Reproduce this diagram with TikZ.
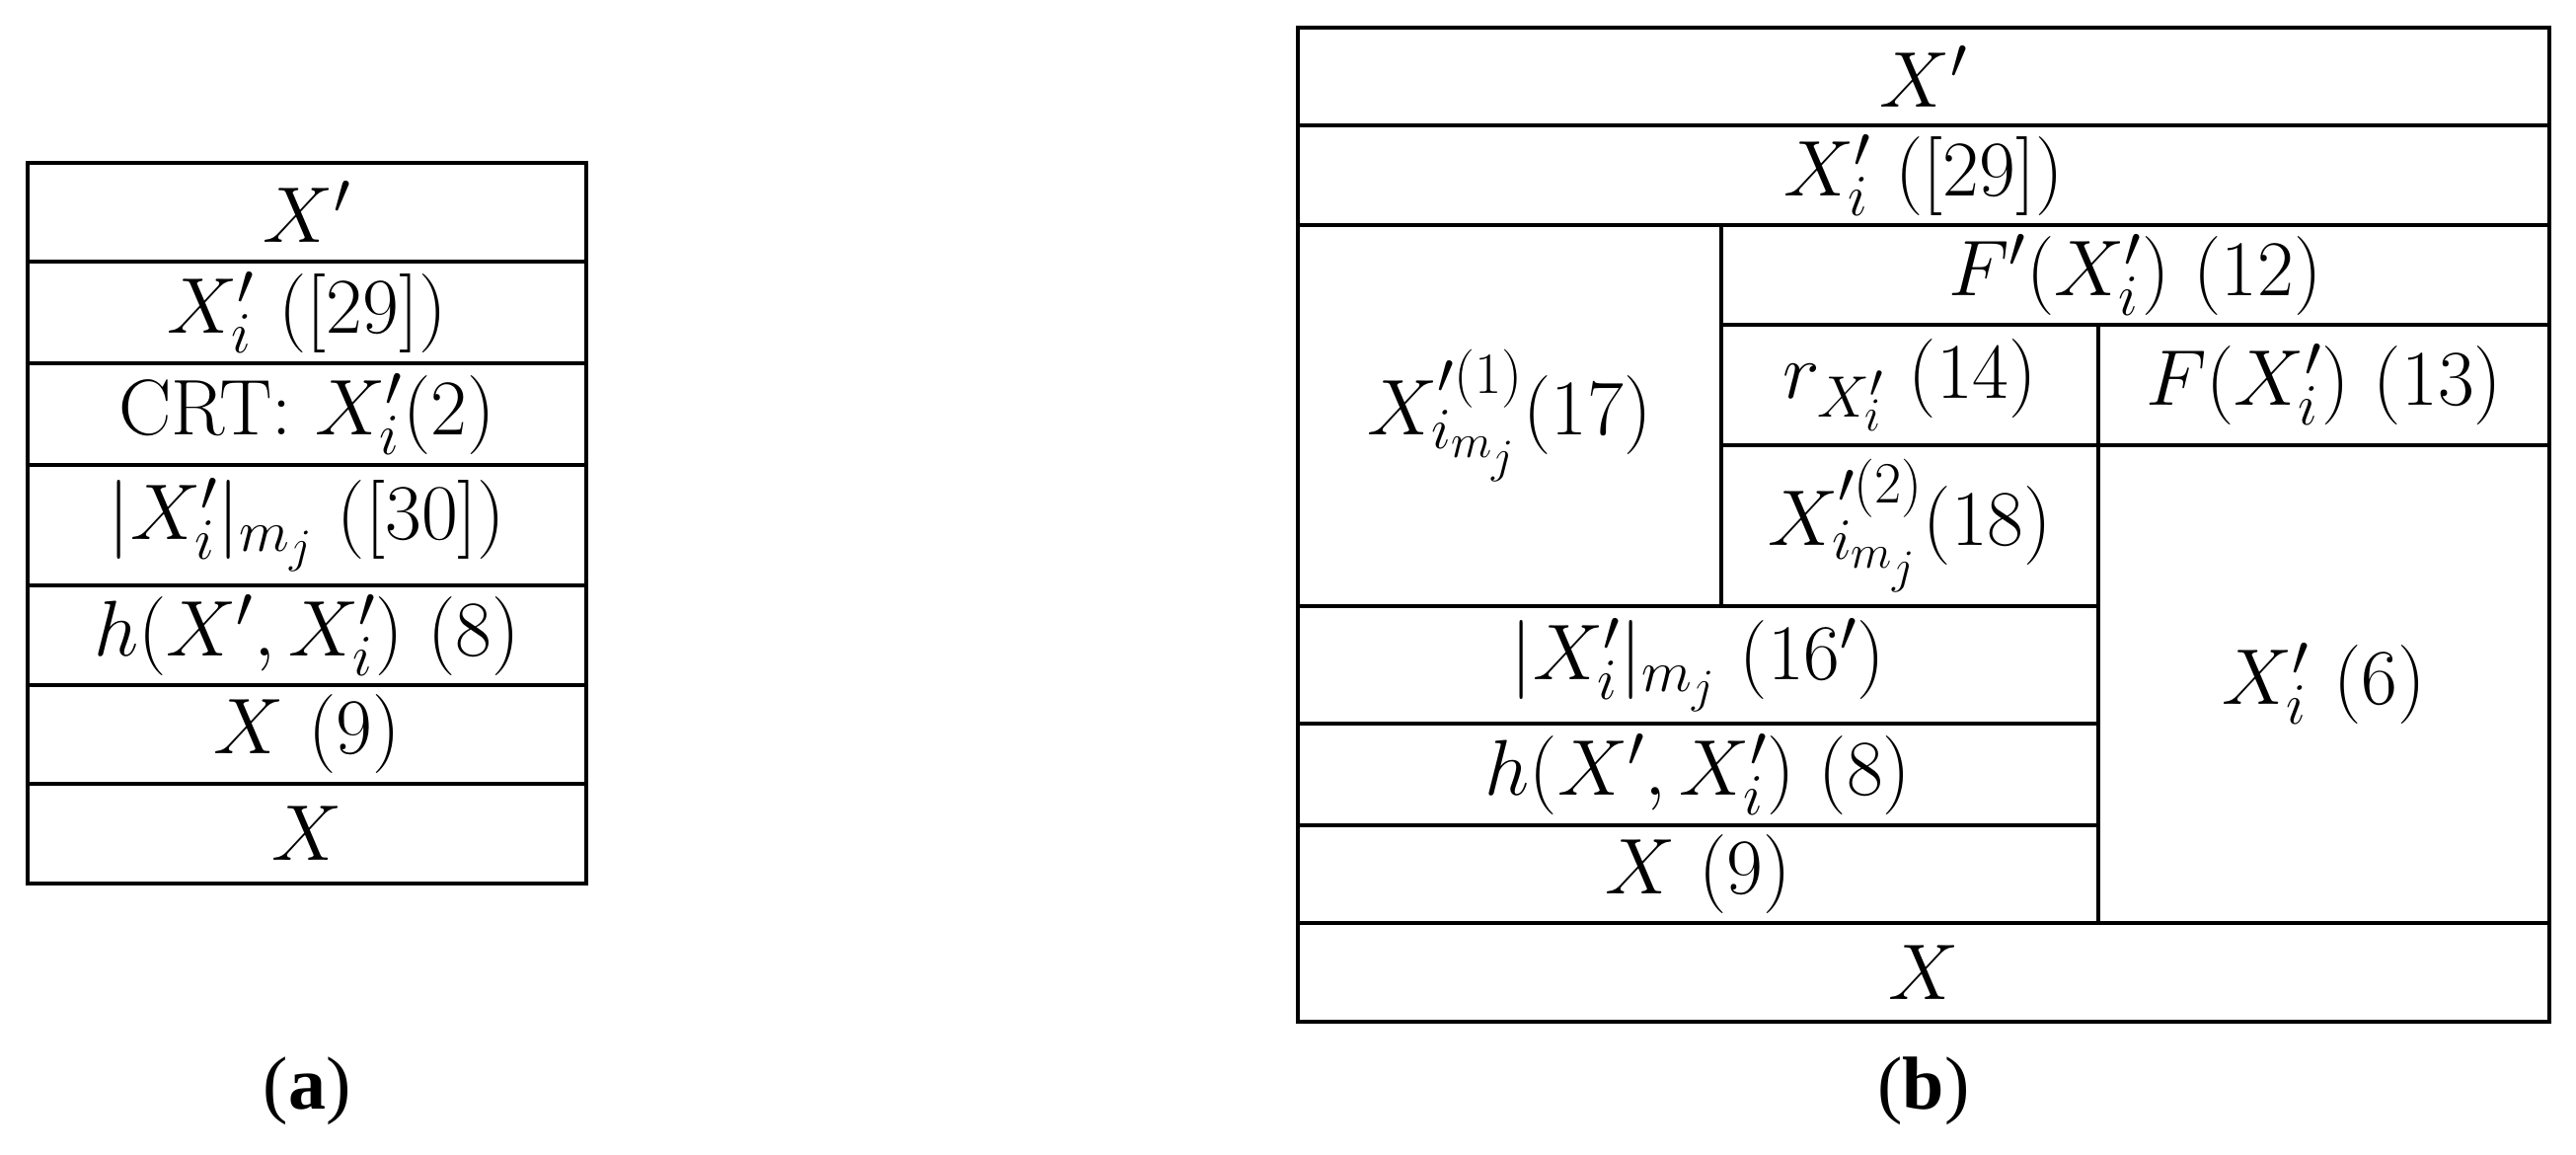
\RequirePackage{fix-cm}
\documentclass[tikz,border=0pt]{standalone}
\usepackage{fontspec}
\newfontfamily\lblfont{Liberation Serif}
\makeatletter
\renewcommand\defaultscriptratio{.74}
\renewcommand\defaultscriptscriptratio{.6}
\makeatother
\newcommand\tcell[6]{%
  \draw[tbl] (#2,#3) rectangle (#4,#5);
  \node[lbl] (#1) at ({(#2+#4)/2},{(#3+#5)/2}) {#6};}
\begin{document}
\begin{tikzpicture}[x=0.5pt,y=-0.5pt,
  tbl/.style={draw=black,line width=2pt},
  frame/.style={draw=black,line width=2.4pt},
  lbl/.style={font=\fontsize{40}{48}\selectfont, inner sep=0pt},
  captext/.style={font=\lblfont\fontsize{38}{45}\selectfont, inner sep=0pt}]
\useasboundingbox (0,0) rectangle (2610,1170);
% ---- (a)
\tcell{a1}{28}{165}{594}{265}{$X'$}
\tcell{a2}{28}{265}{594}{368}{$X_i'$ ([29])}
\tcell{a3}{28}{368}{594}{471}{CRT: $X_i'(2)$}
\tcell{a4}{28}{471}{594}{593}{$|X_i'|_{m_j}$ ([30])}
\tcell{a5}{28}{593}{594}{694}{$h(X',X_i')$ (8)}
\tcell{a6}{28}{694}{594}{794}{$X$ (9)}
\tcell{a7}{28}{794}{594}{895}{$X$}
\draw[frame] (28,165) rectangle (594,895);
\node[captext] (capa) at (311,1105) {(\textbf{a})};
% ---- (b)
\tcell{b1}{1315}{28}{2583}{127}{$X'$}
\tcell{b2}{1315}{127}{2583}{228}{$X_i'$ ([29])}
\tcell{b3}{1315}{228}{1744}{614}{$X_{i_{m_j}}^{\prime(1)}$(17)}
\tcell{b4}{1744}{228}{2583}{329}{$F'(X_i')$ (12)}
\tcell{b5}{1744}{329}{2126}{451}{$r_{X_i'}$ (14)}
\tcell{b6}{2126}{329}{2583}{451}{$F(X_i')$ (13)}
\tcell{b7}{1744}{451}{2126}{614}{$X_{i_{m_j}}^{\prime(2)}$(18)}
\tcell{b8}{1315}{614}{2126}{733}{$|X_i'|_{m_j}$ ($16'$)}
\tcell{b9}{1315}{733}{2126}{836}{$h(X',X_i')$ (8)}
\tcell{b10}{1315}{836}{2126}{935}{$X$ (9)}
\tcell{b11}{2126}{451}{2583}{935}{$X_i'$ (6)}
\tcell{b12}{1315}{935}{2583}{1035}{$X$}
\draw[frame] (1315,28) rectangle (2583,1035);
\node[captext] (capb) at (1949,1105) {(\textbf{b})};
\end{tikzpicture}
\end{document}
